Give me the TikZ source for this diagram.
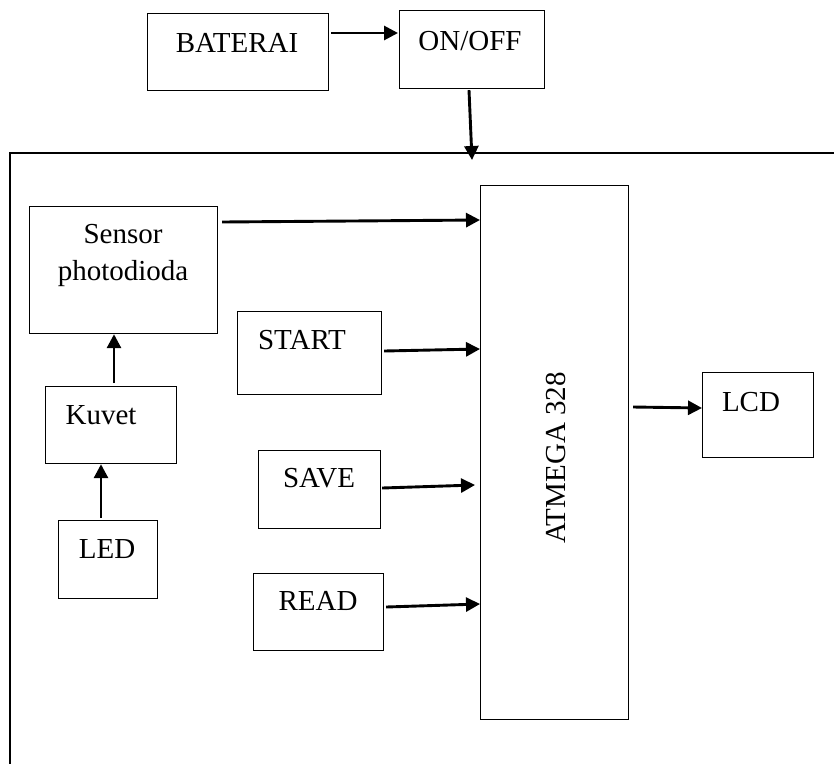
\documentclass[tikz,border=0pt]{standalone}
\usepackage{fontspec}
\setmainfont{Liberation Serif}
\usetikzlibrary{arrows.meta,calc}
\tikzset{
  box/.style={draw=black, line width=1.2pt, rectangle, inner sep=0pt, anchor=north west},
  txt/.style={font=\fontsize{29}{34}\selectfont, inner sep=0pt, anchor=base},
  arr/.style={line width=2.9pt, -{Triangle[length=14pt,width=14pt]}},
  frame/.style={line width=1.1pt}
}
\begin{document}
\begin{tikzpicture}[x=1pt,y=-1pt]
\useasboundingbox (0,0) rectangle (834,764);
% boxes
\node[box, minimum width=181pt, minimum height=77pt] (bat) at (147,13) {};
\node[box, minimum width=145pt, minimum height=78pt] (onoff) at (399,10) {};
\node[box, minimum width=188pt, minimum height=127pt] (sensor) at (29,206) {};
\node[box, minimum width=131pt, minimum height=77pt] (kuvet) at (45,386) {};
\node[box, minimum width=99pt, minimum height=78pt] (led) at (58,520) {};
\node[box, minimum width=144pt, minimum height=83pt] (start) at (237,311) {};
\node[box, minimum width=122pt, minimum height=78pt] (save) at (258,450) {};
\node[box, minimum width=130pt, minimum height=77pt] (read) at (253,573) {};
\node[box, minimum width=148pt, minimum height=534pt] (atm) at (480,185) {};
\node[box, minimum width=111pt, minimum height=85pt] (lcd) at (702,372) {};
% texts
\node[txt] (tbat) at (237,52) {BATERAI};
\node[txt] (tonoff) at (470,50) {ON/OFF};
\node[txt] (tsen1) at (123,243) {Sensor};
\node[txt] (tsen2) at (123,280) {photodioda};
\node[txt] (tkuv) at (101,424) {Kuvet};
\node[txt] (tled) at (107,558) {LED};
\node[txt] (tstart) at (302,349) {START};
\node[txt] (tsave) at (319,487) {SAVE};
\node[txt] (tread) at (318,610) {READ};
\node[txt] (tlcd) at (751,411) {LCD};
\node[txt, rotate=90] (tatm) at (565,458) {ATMEGA 328};
% frame
\draw[frame] (834,153) -- (10,153) -- (10,764);
\coordinate (pwr) at (472,160);
% arrows
\draw[arr] ($(bat.north east)+(2,20)$) -- ($(onoff.north west)+(-1,23)$);
\draw[arr] ($(onoff.south west)+(70,1)$) -- (pwr);
\draw[arr] ($(sensor.north east)+(4,16)$) -- ($(atm.north west)+(0,35)$);
\draw[arr] ($(start.north east)+(2,40)$) -- ($(atm.north west)+(0,164)$);
\draw[arr] ($(save.north east)+(1,38)$) -- ($(atm.north west)+(-5,300)$);
\draw[arr] ($(read.north east)+(2,34)$) -- ($(atm.north west)+(0,419)$);
\draw[arr] ($(atm.north east)+(4,222)$) -- ($(lcd.north west)+(0,36)$);
\draw[arr] ($(kuvet.north west)+(69,-3)$) -- ($(sensor.south west)+(85,0)$);
\draw[arr] ($(led.north west)+(43,-2)$) -- ($(kuvet.south west)+(56,0)$);
\end{tikzpicture}
\end{document}
